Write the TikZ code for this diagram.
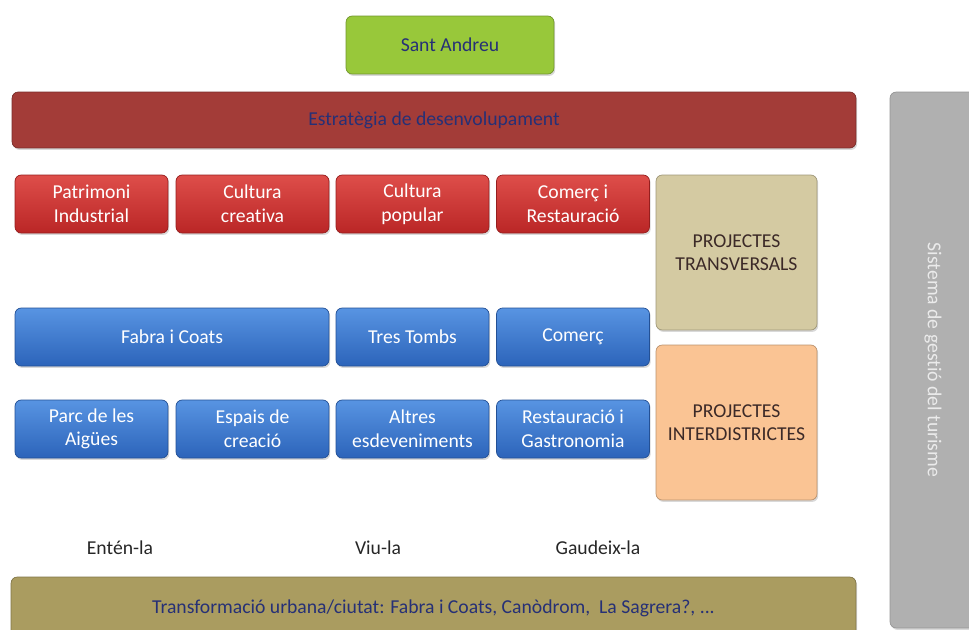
\documentclass[tikz,border=0pt]{standalone}
\usepackage{fontspec}
\setmainfont{Carlito}[Ligatures=NoCommon]
\usepackage{tikz}
\usetikzlibrary{shadows}
\definecolor{redtop}{RGB}{222,78,74}
\definecolor{redbot}{RGB}{186,38,38}
\definecolor{bluetop}{RGB}{88,148,226}
\definecolor{bluebot}{RGB}{44,100,186}
\definecolor{strat}{RGB}{163,60,56}
\definecolor{greenbox}{RGB}{152,200,58}
\definecolor{tanbox}{RGB}{212,202,162}
\definecolor{peachbox}{RGB}{250,196,148}
\definecolor{olivebox}{RGB}{170,156,96}
\definecolor{grayside}{RGB}{176,176,176}
\definecolor{navytext}{RGB}{38,48,118}
\definecolor{browntext}{RGB}{60,42,40}

\begin{document}
\begin{tikzpicture}[x=0.02cm,y=-0.02cm,font=\fontsize{11.2}{13.4}\selectfont,
      base/.style={rounded corners=3.5pt,align=center,inner sep=0pt,
        drop shadow={opacity=0.3,shadow xshift=0.7pt,shadow yshift=-1.1pt}},
      rbox/.style={base,top color=redtop,bottom color=redbot,draw=redbot!80!black,
        text=white,minimum width=3.06cm,minimum height=1.16cm},
      bbox/.style={base,top color=bluetop,bottom color=bluebot,draw=bluebot!80!black,
        text=white,minimum width=3.06cm,minimum height=1.16cm},
      proj/.style={base,draw=#1!75!black,fill=#1,text=browntext,
        minimum width=3.22cm,minimum height=3.1cm},
      lbl/.style={text=black!85}]
    \useasboundingbox (0,0) rectangle (969,629);
    \node[base,fill=greenbox,draw=greenbox!75!black,text=navytext,
      minimum width=4.16cm,minimum height=1.16cm] (sa) at (450,45) {Sant Andreu};
    \node[base,fill=strat,draw=strat!75!black,text=navytext,
      minimum width=16.88cm,minimum height=1.12cm] (est) at (434,120) {Estratègia de desenvolupament};
    \node[rbox] (pat) at (91.5,204) {Patrimoni\\Industrial};
    \node[rbox] (ccr) at (252.5,204) {Cultura\\creativa};
    \node[rbox] (cpo) at (412.5,204) {Cultura\\popular};
    \node[rbox] (cre) at (573,204) {Comerç i\\Restauració};
    \node[bbox,minimum width=6.28cm] (fab) at (172,337) {Fabra i Coats};
    \node[bbox] (tre) at (412.5,337) {Tres Tombs};
    \node[bbox] (com) at (573,337) {Comerç};
    \node[bbox] (par) at (91.5,429) {Parc de les\\Aigües};
    \node[bbox] (esp) at (252.5,429) {Espais de\\creació};
    \node[bbox] (alt) at (412.5,429) {Altres\\esdeveniments};
    \node[bbox] (rga) at (573,429) {Restauració i\\Gastronomia};
    \node[proj=tanbox] (ptr) at (736.5,252.5) {PROJECTES\\TRANSVERSALS};
    \node[proj=peachbox] (pin) at (736.5,422.5) {PROJECTES\\INTERDISTRICTES};
    \node[lbl] (ent) at (120,548) {Entén-la};
    \node[lbl] (viu) at (378,548) {Viu-la};
    \node[lbl] (gau) at (598,548) {Gaudeix-la};
    \node[base,fill=olivebox,draw=olivebox!75!black,text=navytext,
      minimum width=16.9cm,minimum height=1.26cm] (tra) at (433.5,608.5)
      {Transformació urbana/ciutat: Fabra i Coats, Canòdrom,\ \ La Sagrera?, ...};
    \node[base,fill=grayside,draw=grayside!85!black,minimum width=1.72cm,
      minimum height=10.72cm] (sis) at (933,360) {};
    \node[text=white!92!black,rotate=-90] at (sis.center) {Sistema de gestió del turisme};
  \end{tikzpicture}
\end{document}
